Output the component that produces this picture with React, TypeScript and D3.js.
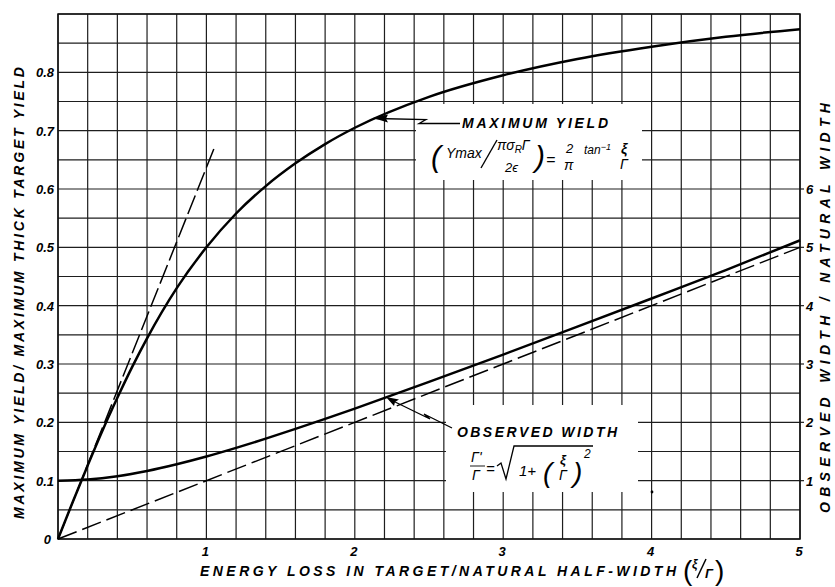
import React from "react";
import * as d3 from "d3";

// ---- data ----
const maxYieldX = [0, 0.1, 0.2, 0.3, 0.4, 0.5, 0.6, 0.8, 1.0, 1.2, 1.4, 1.6, 1.8, 2.0, 2.5, 3.0, 3.5, 4.0, 4.5, 5.0];
const maxYieldY = [0, 0.064, 0.126, 0.186, 0.242, 0.295, 0.344, 0.43, 0.5, 0.558, 0.605, 0.644, 0.677, 0.705, 0.758, 0.795, 0.823, 0.844, 0.861, 0.874];

const widthX = [0, 0.2, 0.4, 0.6, 0.8, 1.0, 1.2, 1.4, 1.6, 1.8, 2.0, 2.5, 3.0, 3.5, 4.0, 4.5, 5.0];
const widthRatio = [1.0, 1.02, 1.077, 1.166, 1.281, 1.414, 1.562, 1.72, 1.887, 2.059, 2.236, 2.693, 3.162, 3.64, 4.123, 4.61, 5.12];

const slopeX = [0, 1.06];
const slopeY = [0, 0.675];
const asymX = [0, 5];
const asymRatio = [0, 5];

const xTickVals = [1, 2, 3, 4, 5];
const leftTickVals = [0, 0.1, 0.2, 0.3, 0.4, 0.5, 0.6, 0.7, 0.8];
const rightTickVals = [1, 2, 3, 4, 5, 6];

const FONT = "'Liberation Sans', 'DejaVu Sans', Arial, sans-serif";

export default function App() {
  const W = 835, H = 587;
  const x = d3.scaleLinear().domain([0, 5]).range([58, 800]);
  const y = d3.scaleLinear().domain([0, 0.9]).range([539, 14]);
  const yR = d3.scaleLinear().domain([0, 9]).range([539, 14]);

  const vGrid = d3.range(0, 5.0001, 0.2);
  const hGrid = d3.range(0, 0.9001, 0.05);

  const yieldPts: [number, number][] = maxYieldX.map((v, i) => [x(v), y(maxYieldY[i])]);
  const widthPts: [number, number][] = widthX.map((v, i) => [x(v), yR(widthRatio[i])]);
  const slopePts: [number, number][] = slopeX.map((v, i) => [x(v), y(slopeY[i])]);
  const asymPts: [number, number][] = asymX.map((v, i) => [x(v), yR(asymRatio[i])]);

  const smooth = d3.line().curve(d3.curveMonotoneX);
  const straight = d3.line();

  const fmtLeft = (v: number) => (v === 0 ? "0" : d3.format(".1f")(v));

  const txt = {
    fontFamily: FONT,
    fontStyle: "italic" as const,
    fill: "#000",
  };
  const bold = { ...txt, fontWeight: 700 };

  return (
    <svg
      width={W}
      height={H}
      viewBox={`0 0 ${W} ${H}`}
      style={{ position: "absolute", left: 0, top: 0, background: "#fff" }}
    >
      <rect x={0} y={0} width={W} height={H} fill="#fff" />

      {/* grid */}
      <g stroke="#1e1e1e" strokeWidth={1.2}>
        {vGrid.map((v, i) => (
          <line key={"v" + i} x1={x(v)} x2={x(v)} y1={y(0)} y2={y(0.9)} />
        ))}
        {hGrid.map((v, i) => (
          <line key={"h" + i} x1={x(0)} x2={x(5)} y1={y(v)} y2={y(v)} />
        ))}
        {rightTickVals.map((v) => (
          <line key={"rt" + v} x1={x(5)} x2={x(5) + 4} y1={yR(v)} y2={yR(v)} />
        ))}
      </g>
      <rect x={x(0)} y={y(0.9)} width={x(5) - x(0)} height={y(0) - y(0.9)} fill="none" stroke="#111" strokeWidth={1.5} />

      {/* annotation boxes (white cut-outs in the grid) */}
      <rect x={416} y={104} width={226} height={76} fill="#fff" />
      <rect x={446} y={405} width={192} height={87} fill="#fff" />

      {/* curves */}
      <path d={smooth(yieldPts) || ""} fill="none" stroke="#000" strokeWidth={2.5} />
      <path d={smooth(widthPts) || ""} fill="none" stroke="#000" strokeWidth={2.5} />
      <path d={straight(slopePts) || ""} fill="none" stroke="#000" strokeWidth={1.5} strokeDasharray="20 5" />
      <path d={straight(asymPts) || ""} fill="none" stroke="#000" strokeWidth={1.5} strokeDasharray="20 6" />

      {/* arrows */}
      <path d="M376,118.5 L426,119.5 L419,123.5 L460,123.5" fill="none" stroke="#000" strokeWidth={1.3} />
      <path d="M373,118 L388,114.5 L386,118.7 L388,122.5 Z" fill="#000" />
      <path d="M390,399.5 L430,419 L424,414 L452,428" fill="none" stroke="#000" strokeWidth={1.3} />
      <path d="M386,397 L399,399.5 L395,402 L394,406 Z" fill="#000" />

      {/* speck */}
      <circle cx={652} cy={492} r={1.4} fill="#000" />

      {/* left tick labels */}
      {leftTickVals.map((v) => (
        <text key={"l" + v} x={v === 0 ? 51 : 54} y={y(v) + 5} textAnchor="end" fontSize={13} {...bold}>
          {fmtLeft(v)}
        </text>
      ))}
      {/* right tick labels */}
      {rightTickVals.map((v) => (
        <text key={"r" + v} x={806} y={yR(v) + 5} textAnchor="start" fontSize={13} {...bold}>
          {v}
        </text>
      ))}
      {/* bottom tick labels */}
      {xTickVals.map((v) => (
        <text key={"b" + v} x={x(v) - 1} y={556} textAnchor="middle" fontSize={13} {...bold}>
          {v}
        </text>
      ))}

      {/* axis titles */}
      <text
        transform="translate(24,293) rotate(-90)"
        textAnchor="middle"
        fontSize={14}
        textLength={452}
        lengthAdjust="spacing"
        {...bold}
      >
        MAXIMUM YIELD/ MAXIMUM THICK TARGET YIELD
      </text>
      <text
        transform="translate(830,308) rotate(-90)"
        textAnchor="middle"
        fontSize={14}
        textLength={410}
        lengthAdjust="spacing"
        {...bold}
      >
        OBSERVED WIDTH / NATURAL WIDTH
      </text>
      <text x={200} y={576} fontSize={14} textLength={476} lengthAdjust="spacing" {...bold}>
        ENERGY LOSS IN TARGET/NATURAL HALF-WIDTH
      </text>
      {/* (ξ/Γ) */}
      <text x={683} y={580} fontSize={28} {...txt} fontStyle="normal">(</text>
      <text x={692} y={568} fontSize={12} {...bold}>ξ</text>
      <line x1={697} y1={578} x2={706} y2={559} stroke="#000" strokeWidth={1.5} />
      <text x={705} y={578} fontSize={13} {...bold}>Γ</text>
      <text x={715} y={580} fontSize={28} {...txt} fontStyle="normal">)</text>

      {/* MAXIMUM YIELD annotation */}
      <text x={462} y={128} fontSize={14} textLength={146} lengthAdjust="spacing" {...bold}>
        MAXIMUM YIELD
      </text>
      <text x={431} y={167} fontSize={30} {...txt}>(</text>
      <text x={446} y={158} fontSize={14} {...txt}>Ymax</text>
      <line x1={481} y1={168} x2={497} y2={140} stroke="#000" strokeWidth={1.4} />
      <text x={497} y={150} fontSize={14} {...txt}>
        πσ<tspan fontSize={10} dy={3}>R</tspan><tspan dy={-3}>Γ</tspan>
      </text>
      <text x={505} y={172} fontSize={13} {...txt}>2ϵ</text>
      <text x={535} y={167} fontSize={30} {...txt}>)</text>
      <text x={546} y={165} fontSize={16} {...txt}>=</text>
      <text x={566} y={153} fontSize={13} {...txt}>2</text>
      <text x={564} y={170} fontSize={14} {...txt}>π</text>
      <text x={584} y={154} fontSize={12} {...txt}>
        tan<tspan fontSize={9} dy={-4}>−1</tspan>
      </text>
      <text x={621} y={154} fontSize={14} {...bold}>ξ</text>
      <text x={620} y={169} fontSize={14} {...txt}>Γ</text>

      {/* OBSERVED WIDTH annotation */}
      <text x={457} y={437} fontSize={14} textLength={160} lengthAdjust="spacing" {...bold}>
        OBSERVED WIDTH
      </text>
      <text x={471} y={462} fontSize={14} {...txt}>Γ'</text>
      <line x1={470} y1={466} x2={485} y2={466} stroke="#000" strokeWidth={0.9} />
      <text x={472} y={480} fontSize={14} {...txt}>Γ</text>
      <text x={486} y={474} fontSize={15} {...txt}>=</text>
      <path d="M497,466 L501,463 L506,479 L514,446 L593,446" fill="none" stroke="#000" strokeWidth={1.3} />
      <text x={519} y={476} fontSize={15} {...txt}>1+</text>
      <text x={543} y={482} fontSize={28} {...txt}>(</text>
      <text x={560} y={464} fontSize={13} {...bold}>ξ</text>
      <text x={559} y={480} fontSize={14} {...txt}>Γ</text>
      <text x={573} y={482} fontSize={28} {...txt}>)</text>
      <text x={584} y={458} fontSize={12} {...txt}>2</text>
    </svg>
  );
}
